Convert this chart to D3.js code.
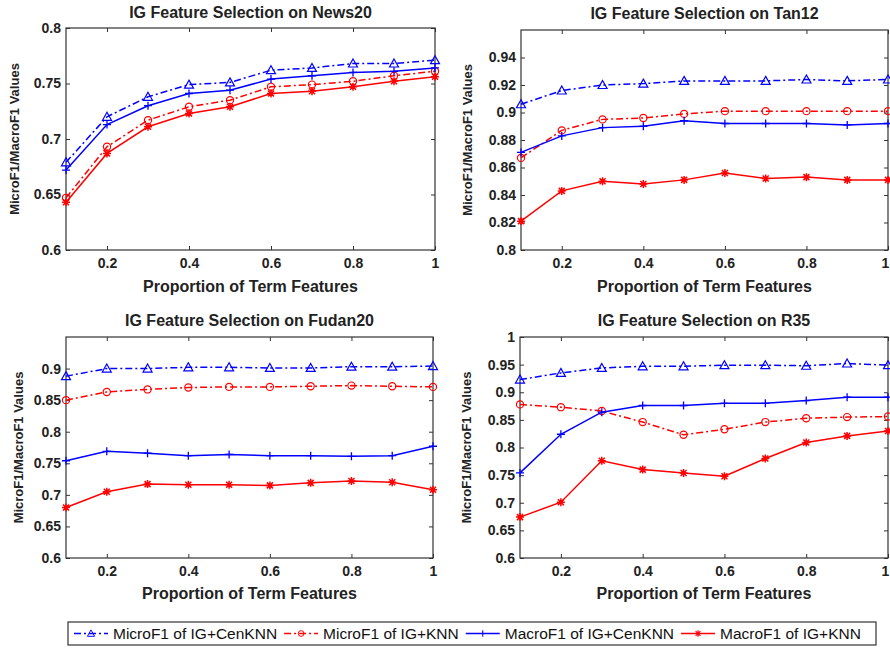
<!DOCTYPE html>
<html>
<head>
<meta charset="utf-8">
<script src="https://cdn.jsdelivr.net/npm/d3@7"></script>
<style>
  body { margin: 0; background: #fff; }
  text { font-family: "Liberation Sans", Arial, sans-serif; }
</style>
</head>
<body>
<div id="chart"></div>
<script>
// proportion of term features (x values shared by every panel)
var proportions = [0.1, 0.2, 0.3, 0.4, 0.5, 0.6, 0.7, 0.8, 0.9, 1.0];
var xTicks = [0.2, 0.4, 0.6, 0.8, 1];

// News20
var news20MicroCen = [0.679, 0.720, 0.738, 0.749, 0.751, 0.762, 0.764, 0.768, 0.768, 0.771];
var news20MicroKnn = [0.647, 0.693, 0.717, 0.729, 0.735, 0.747, 0.749, 0.752, 0.757, 0.761];
var news20MacroCen = [0.672, 0.713, 0.730, 0.741, 0.744, 0.754, 0.757, 0.760, 0.761, 0.764];
var news20MacroKnn = [0.643, 0.687, 0.711, 0.723, 0.729, 0.741, 0.743, 0.747, 0.752, 0.756];
var news20YTicks = [0.6, 0.65, 0.7, 0.75, 0.8];

// Tan12
var tan12MicroCen = [0.906, 0.916, 0.920, 0.921, 0.923, 0.923, 0.923, 0.924, 0.923, 0.924];
var tan12MicroKnn = [0.867, 0.887, 0.895, 0.896, 0.899, 0.901, 0.901, 0.901, 0.901, 0.901];
var tan12MacroCen = [0.871, 0.883, 0.889, 0.890, 0.894, 0.892, 0.892, 0.892, 0.891, 0.892];
var tan12MacroKnn = [0.821, 0.843, 0.850, 0.848, 0.851, 0.856, 0.852, 0.853, 0.851, 0.851];
var tan12YTicks = [0.8, 0.82, 0.84, 0.86, 0.88, 0.9, 0.92, 0.94];

// Fudan20
var fudan20MicroCen = [0.888, 0.900, 0.900, 0.902, 0.902, 0.901, 0.901, 0.903, 0.903, 0.904];
var fudan20MicroKnn = [0.850, 0.863, 0.867, 0.870, 0.871, 0.871, 0.872, 0.873, 0.872, 0.871];
var fudan20MacroCen = [0.754, 0.769, 0.766, 0.762, 0.764, 0.762, 0.762, 0.761, 0.762, 0.777];
var fudan20MacroKnn = [0.680, 0.705, 0.717, 0.716, 0.716, 0.715, 0.719, 0.722, 0.720, 0.708];
var fudan20YTicks = [0.6, 0.65, 0.7, 0.75, 0.8, 0.85, 0.9];

// R35
var r35MicroCen = [0.923, 0.935, 0.944, 0.947, 0.947, 0.949, 0.949, 0.948, 0.952, 0.949];
var r35MicroKnn = [0.878, 0.873, 0.866, 0.846, 0.823, 0.833, 0.846, 0.853, 0.855, 0.856];
var r35MacroCen = [0.754, 0.824, 0.864, 0.876, 0.876, 0.880, 0.880, 0.885, 0.891, 0.891];
var r35MacroKnn = [0.674, 0.701, 0.776, 0.760, 0.754, 0.748, 0.780, 0.809, 0.821, 0.830];
var r35YTicks = [0.6, 0.65, 0.7, 0.75, 0.8, 0.85, 0.9, 0.95, 1];

var seriesNames = ["MicroF1 of IG+CenKNN", "MicroF1 of IG+KNN", "MacroF1 of IG+CenKNN", "MacroF1 of IG+KNN"];
var seriesColors = ["#0000ff", "#ff0000", "#0000ff", "#ff0000"];
var seriesDash = ["7,3,2,3", "7,3,2,3", null, null];
var seriesMarkers = ["triangle", "circle", "plus", "star"];

var panels = [
  { title: "IG Feature Selection on News20", yDomain: [0.6, 0.8], yTicks: news20YTicks,
    series: [news20MicroCen, news20MicroKnn, news20MacroCen, news20MacroKnn],
    box: { left: 66, right: 435, top: 28, bottom: 250 }, yLabelX: 14, titleY: 18, xLabelY: 292 },
  { title: "IG Feature Selection on Tan12", yDomain: [0.8, 0.96], yTicks: tan12YTicks,
    series: [tan12MicroCen, tan12MicroKnn, tan12MacroCen, tan12MacroKnn],
    box: { left: 521, right: 888, top: 30, bottom: 250 }, yLabelX: 467, titleY: 19, xLabelY: 292 },
  { title: "IG Feature Selection on Fudan20", yDomain: [0.6, 0.95], yTicks: fudan20YTicks,
    series: [fudan20MicroCen, fudan20MicroKnn, fudan20MacroCen, fudan20MacroKnn],
    box: { left: 66, right: 433, top: 337, bottom: 558 }, yLabelX: 18, titleY: 326, xLabelY: 599 },
  { title: "IG Feature Selection on R35", yDomain: [0.6, 1], yTicks: r35YTicks,
    series: [r35MicroCen, r35MicroKnn, r35MacroCen, r35MacroKnn],
    box: { left: 520, right: 888, top: 337, bottom: 558 }, yLabelX: 466, titleY: 326, xLabelY: 599 }
];

var svg = d3.select("#chart").append("svg")
  .attr("width", 890)
  .attr("height", 651);

// draw a marker of the given kind centred at 0,0
function drawMarker(g, kind, color) {
  if (kind === "triangle") {
    g.append("path").attr("d", "M0,-4.5L4.5,3.5L-4.5,3.5Z")
      .attr("fill", "none").attr("stroke", color).attr("stroke-width", 1.2);
  } else if (kind === "circle") {
    g.append("circle").attr("r", 3.6)
      .attr("fill", "none").attr("stroke", color).attr("stroke-width", 1.2);
  } else if (kind === "plus") {
    g.append("path").attr("d", "M-4,0H4M0,-4V4")
      .attr("stroke", color).attr("stroke-width", 1.3);
  } else {
    g.append("path").attr("d", "M-4,0H4M0,-4V4M-3,-3L3,3M-3,3L3,-3")
      .attr("stroke", color).attr("stroke-width", 1.5);
  }
}

panels.forEach(function (p) {
  var b = p.box;
  var x = d3.scaleLinear().domain([0.1, 1]).range([b.left, b.right]);
  var y = d3.scaleLinear().domain(p.yDomain).range([b.bottom, b.top]);
  var g = svg.append("g");

  // bottom axis with labels, ticks pointing inward
  var xAxis = g.append("g")
    .attr("transform", "translate(0," + b.bottom + ")")
    .call(d3.axisBottom(x).tickValues(xTicks).tickSizeInner(-4).tickSizeOuter(0).tickPadding(8)
      .tickFormat(function (d) { return String(d); }));
  // left axis with labels
  var yAxis = g.append("g")
    .attr("transform", "translate(" + b.left + ",0)")
    .call(d3.axisLeft(y).tickValues(p.yTicks).tickSizeInner(-4).tickSizeOuter(0).tickPadding(5)
      .tickFormat(function (d) { return String(+d.toFixed(2)); }));
  // top and right axes, ticks only
  var topAxis = g.append("g")
    .attr("transform", "translate(0," + b.top + ")")
    .call(d3.axisTop(x).tickValues(xTicks).tickSizeInner(-4).tickSizeOuter(0).tickFormat(""));
  var rightAxis = g.append("g")
    .attr("transform", "translate(" + b.right + ",0)")
    .call(d3.axisRight(y).tickValues(p.yTicks).tickSizeInner(-4).tickSizeOuter(0).tickFormat(""));

  [xAxis, yAxis, topAxis, rightAxis].forEach(function (a) {
    a.select(".domain").remove();
    a.selectAll("line").attr("stroke", "#333");
    a.selectAll("text")
      .attr("fill", "#222")
      .style("font-size", "14px")
      .style("font-weight", "bold");
  });
  // keep the last x label inside the page on the right-hand panels
  if (b.right > 880) {
    xAxis.selectAll("text").filter(function (d) { return d === 1; }).attr("dx", "-3");
  }

  // plot box
  g.append("rect")
    .attr("x", b.left).attr("y", b.top)
    .attr("width", b.right - b.left).attr("height", b.bottom - b.top)
    .attr("fill", "none").attr("stroke", "#333").attr("stroke-width", 1.2);

  // series lines and markers
  p.series.forEach(function (vals, i) {
    var pts = vals.map(function (v, j) { return [proportions[j], v]; });
    var line = d3.line().x(function (d) { return x(d[0]); }).y(function (d) { return y(d[1]); });
    g.append("path")
      .attr("d", line(pts))
      .attr("fill", "none")
      .attr("stroke", seriesColors[i])
      .attr("stroke-width", 1.5)
      .attr("stroke-dasharray", seriesDash[i]);
    pts.forEach(function (d) {
      var m = g.append("g").attr("transform", "translate(" + x(d[0]) + "," + y(d[1]) + ")");
      drawMarker(m, seriesMarkers[i], seriesColors[i]);
    });
  });

  // title and axis labels
  g.append("text")
    .attr("x", (b.left + b.right) / 2).attr("y", p.titleY)
    .attr("text-anchor", "middle")
    .style("font-size", "16px").style("font-weight", "bold").attr("fill", "#222")
    .text(p.title);
  g.append("text")
    .attr("x", (b.left + b.right) / 2).attr("y", p.xLabelY)
    .attr("text-anchor", "middle")
    .style("font-size", "16px").style("font-weight", "bold").attr("fill", "#222")
    .text("Proportion of Term Features");
  g.append("text")
    .attr("transform", "translate(" + p.yLabelX + "," + (b.top + b.bottom) / 2 + ") rotate(-90)")
    .attr("text-anchor", "middle")
    .attr("dy", "0.35em")
    .style("font-size", "13px").style("font-weight", "bold").attr("fill", "#222")
    .text("MicroF1/MacroF1 Values");
});

// legend
var legend = svg.append("g");
legend.append("rect")
  .attr("x", 68).attr("y", 622).attr("width", 808).attr("height", 23)
  .attr("fill", "#fff").attr("stroke", "#333").attr("stroke-width", 1.2);

var lx = 74;
seriesNames.forEach(function (name, i) {
  var ly = 633.5;
  legend.append("line")
    .attr("x1", lx).attr("x2", lx + 34).attr("y1", ly).attr("y2", ly)
    .attr("stroke", seriesColors[i]).attr("stroke-width", 1.5)
    .attr("stroke-dasharray", seriesDash[i]);
  var m = legend.append("g").attr("transform", "translate(" + (lx + 17) + "," + ly + ") scale(0.8)");
  drawMarker(m, seriesMarkers[i], seriesColors[i]);
  var t = legend.append("text")
    .attr("x", lx + 39).attr("y", ly).attr("dy", "0.35em")
    .style("font-size", "15.5px").attr("fill", "#111")
    .text(name);
  lx += 39 + t.node().getComputedTextLength() + 7;
});
</script>
</body>
</html>
